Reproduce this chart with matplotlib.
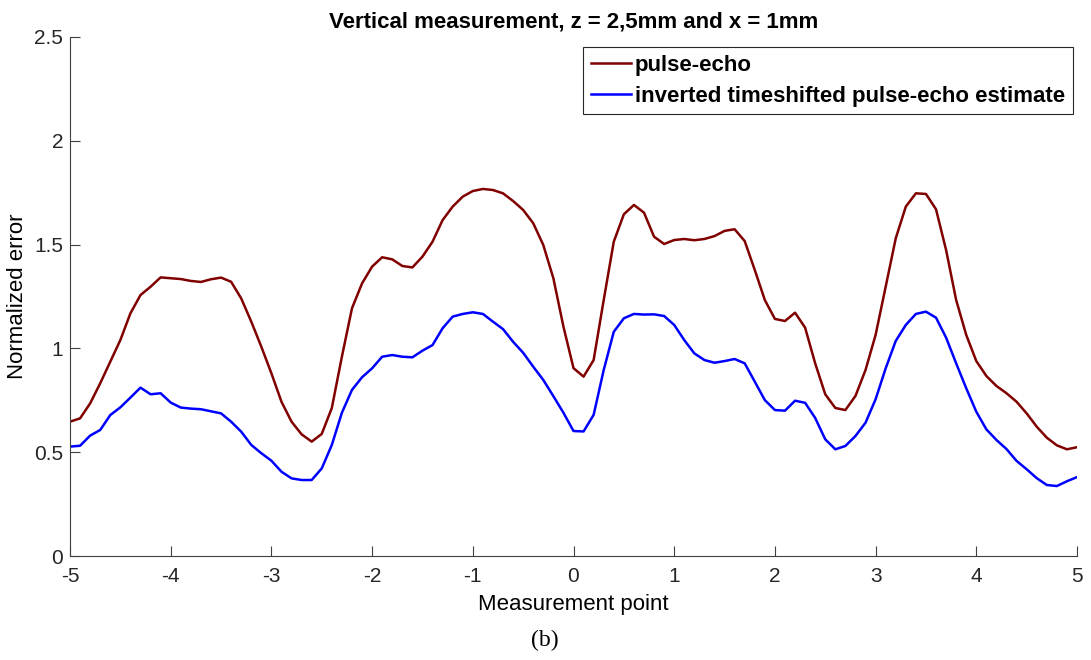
import matplotlib
matplotlib.use("Agg")
import matplotlib.pyplot as plt
import numpy as np

# measurement points -5 .. 5, step 0.1
x = np.round(np.arange(-5, 5.0001, 0.1), 1)

pulse_echo = [
    0.647, 0.663, 0.735, 0.832, 0.936, 1.040, 1.169, 1.257, 1.297, 1.342,
    1.338, 1.334, 1.325, 1.320, 1.333, 1.341, 1.321, 1.241, 1.129, 1.008,
    0.880, 0.743, 0.647, 0.586, 0.551, 0.588, 0.713, 0.960, 1.193, 1.313,
    1.394, 1.439, 1.429, 1.397, 1.390, 1.442, 1.514, 1.618, 1.683, 1.731,
    1.758, 1.768, 1.763, 1.747, 1.710, 1.667, 1.603, 1.498, 1.338, 1.105,
    0.905, 0.864, 0.944, 1.233, 1.514, 1.646, 1.691, 1.654, 1.538, 1.503,
    1.522, 1.527, 1.521, 1.527, 1.541, 1.566, 1.574, 1.517, 1.378, 1.233,
    1.142, 1.132, 1.172, 1.100, 0.928, 0.779, 0.713, 0.703, 0.771, 0.896,
    1.065, 1.297, 1.530, 1.683, 1.747, 1.744, 1.670, 1.474, 1.233, 1.065,
    0.939, 0.867, 0.819, 0.784, 0.743, 0.687, 0.623, 0.570, 0.533, 0.514,
    0.524,
]

inverted_estimate = [
    0.527, 0.531, 0.580, 0.607, 0.679, 0.716, 0.763, 0.811, 0.779, 0.784,
    0.739, 0.715, 0.710, 0.707, 0.697, 0.687, 0.647, 0.599, 0.535, 0.495,
    0.459, 0.406, 0.374, 0.366, 0.366, 0.422, 0.535, 0.690, 0.800, 0.861,
    0.904, 0.960, 0.968, 0.960, 0.957, 0.989, 1.016, 1.097, 1.153, 1.166,
    1.174, 1.166, 1.129, 1.093, 1.032, 0.979, 0.912, 0.848, 0.770, 0.690,
    0.602, 0.600, 0.680, 0.896, 1.080, 1.145, 1.166, 1.163, 1.164, 1.156,
    1.113, 1.040, 0.976, 0.944, 0.931, 0.939, 0.949, 0.928, 0.840, 0.751,
    0.703, 0.700, 0.748, 0.738, 0.665, 0.562, 0.514, 0.530, 0.578, 0.642,
    0.755, 0.904, 1.036, 1.113, 1.166, 1.177, 1.148, 1.052, 0.928, 0.808,
    0.695, 0.610, 0.559, 0.515, 0.458, 0.418, 0.375, 0.342, 0.337, 0.360,
    0.380,
]

plt.rcParams['font.family'] = ['Liberation Sans', 'DejaVu Sans']
plt.rcParams['axes.unicode_minus'] = False

fig = plt.figure(figsize=(10.91, 6.6), dpi=100)
ax = fig.add_axes([70 / 1091, 1 - 556 / 660, (1077 - 70) / 1091, (556 - 37) / 660])

ax.plot(x, pulse_echo, color='#800000', lw=1.8, label='pulse-echo')
ax.plot(x, inverted_estimate, color='#0000ff', lw=1.8,
        label='inverted timeshifted pulse-echo estimate')

ax.set_xlim(-5, 5)
ax.set_ylim(0, 2.5)
ax.set_xticks(np.arange(-5, 6, 1))
ax.set_yticks([0, 0.5, 1, 1.5, 2, 2.5])
ax.set_yticklabels(['0', '0.5', '1', '1.5', '2', '2.5'])

for s in ['top', 'right']:
    ax.spines[s].set_visible(False)
for s in ['left', 'bottom']:
    ax.spines[s].set_color('#404040')
    ax.spines[s].set_linewidth(0.8)
ax.tick_params(direction='in', length=7, width=0.8, color='#404040',
               labelcolor='#262626', labelsize=15)
ax.tick_params(axis='x', pad=8)
ax.tick_params(axis='y', pad=5)

ax.set_title('Vertical measurement, z = 2,5mm and x = 1mm',
             fontsize=16, fontweight='bold', pad=7)
ax.set_xlabel('Measurement point', fontsize=16, labelpad=6)
ax.set_ylabel('Normalized error', fontsize=16, labelpad=4)

leg = ax.legend(loc='upper right', bbox_to_anchor=(0.996, 0.981),
                prop={'weight': 'bold', 'size': 16}, fancybox=False,
                edgecolor='#262626', framealpha=1, borderpad=0.35,
                handlelength=1.8, handletextpad=0.2, labelspacing=0.45,
                borderaxespad=0)
leg.get_frame().set_linewidth(0.8)

fig.text(545 / 1091, 1 - 640 / 660, '(b)', ha='center', va='center',
         fontsize=17, family=['Liberation Serif', 'DejaVu Serif'])

fig.savefig('out.png', dpi=100)
